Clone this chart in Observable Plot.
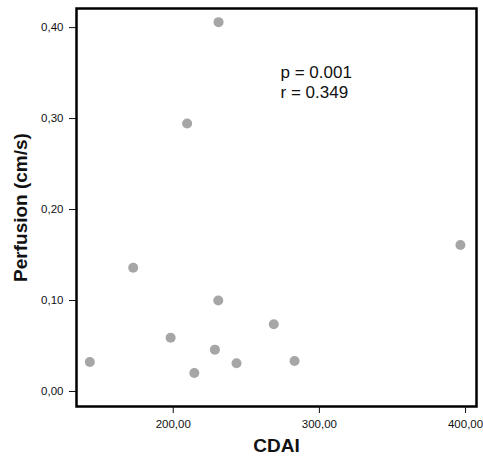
<!DOCTYPE html>
<html>
<head>
<meta charset="utf-8">
<script src="https://cdn.jsdelivr.net/npm/d3@7"></script>
<script src="https://cdn.jsdelivr.net/npm/@observablehq/plot@0.6"></script>
<style>
  body { margin: 0; background: #fff; font-family: "Liberation Sans", Arial, sans-serif; }
</style>
</head>
<body>
<div id="chart"></div>
<script>
const cdai = [231.0, 209.5, 172.6, 142.9, 198.2, 230.8, 214.4, 228.5, 243.3, 268.8, 283.0, 396.5];
const perfusion = [0.406, 0.2945, 0.136, 0.0325, 0.059, 0.100, 0.0204, 0.046, 0.031, 0.074, 0.0336, 0.161];
const xTicks = [200, 300, 400];
const yTicks = [0, 0.1, 0.2, 0.3, 0.4];
const annotation = ["p = 0.001", "r = 0.349"];
const annotationX = 273.4;
const annotationY = [0.351, 0.329];

const points = cdai.map((x, i) => ({x, y: perfusion[i]}));
const notes = annotation.map((t, i) => ({t, x: annotationX, y: annotationY[i]}));
const comma = (d, n) => d.toFixed(n).replace(".", ",");

const chart = Plot.plot({
  width: 483,
  height: 460,
  marginLeft: 76,
  marginTop: 8,
  marginRight: 7,
  marginBottom: 54,
  style: {fontFamily: "'Liberation Sans', Arial, sans-serif", background: "#fff"},
  x: {domain: [133.8, 407.5]},
  y: {domain: [-0.0165, 0.421]},
  marks: [
    Plot.dot(points, {x: "x", y: "y", r: 5, fill: "#a6a6a6", stroke: "none"}),
    Plot.text(notes, {x: "x", y: "y", text: "t", textAnchor: "start", fontSize: 17, fill: "#111"}),
    Plot.frame({stroke: "#000", strokeWidth: 2.5}),
    Plot.axisX({ticks: xTicks, tickFormat: d => comma(d, 2), tickSize: 7, tickPadding: 6, tickStrokeWidth: 2.5, fontSize: 11.5, label: null, color: "#111"}),
    Plot.axisY({ticks: yTicks, tickFormat: d => comma(d, 2), tickSize: 7, tickPadding: 6, tickStrokeWidth: 2.5, fontSize: 11.5, label: null, color: "#111"}),
    Plot.text(["CDAI"], {frameAnchor: "bottom", dy: 45, fontSize: 19, fontWeight: "bold", fill: "#111", text: d => d}),
    Plot.text(["Perfusion (cm/s)"], {frameAnchor: "left", textAnchor: "middle", dx: -56, rotate: -90, fontSize: 19, fontWeight: "bold", fill: "#111", text: d => d})
  ]
});
document.getElementById("chart").appendChild(chart);
</script>
</body>
</html>
